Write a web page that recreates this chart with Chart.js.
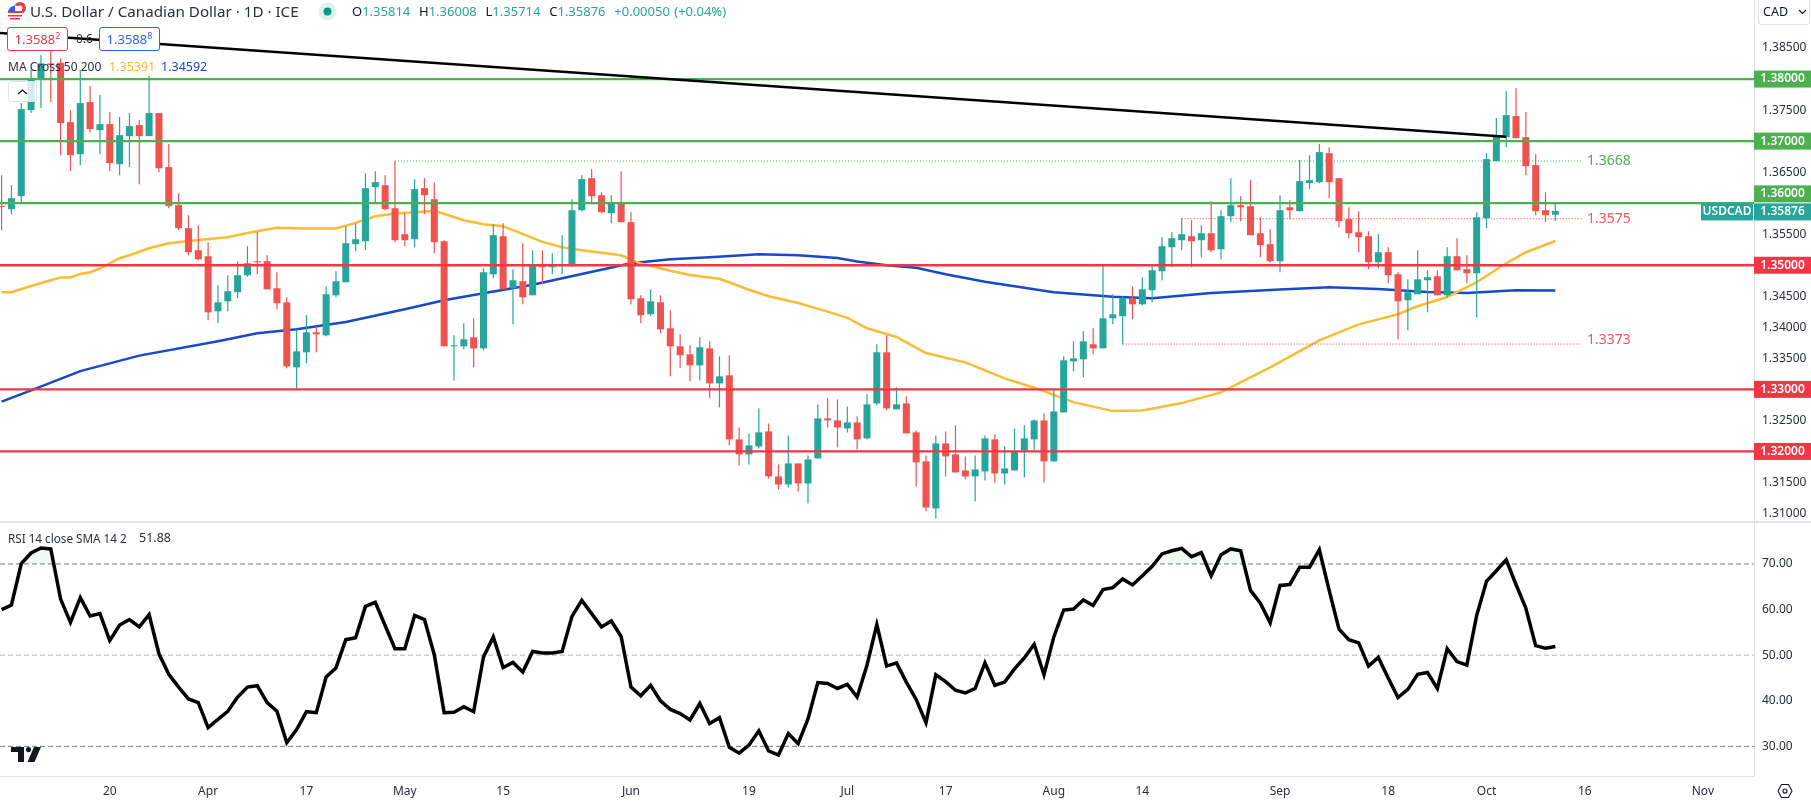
<!DOCTYPE html>
<html>
<head>
<meta charset="utf-8">
<title>USDCAD</title>
<script src="https://cdn.jsdelivr.net/npm/chart.js@4"></script>
<style>
    html, body { margin: 0; padding: 0; background: #fff; }
    body { width: 1811px; height: 802px; position: relative; overflow: hidden; font-family: "Noto Sans", sans-serif; color: #131722; }
    canvas { position: absolute; left: 0; }
    #priceChart { top: 0; }
    #rsiChart { top: 522px; }
    .txt { position: absolute; white-space: nowrap; line-height: 16px; }
    .up { color: #26a69a; }
    .sep { position: absolute; left: 0; top: 521px; width: 1811px; height: 1.5px; background: #e0e3eb; }
    .box { position: absolute; top: 27px; width: 59px; height: 22px; background: #fff; border-radius: 3px; font-size: 13px; line-height: 22px; text-align: center; }
    .box sup { font-size: 9px; line-height: 0; }
</style>
</head>
<body>
<canvas id="priceChart" width="1811" height="522"></canvas>
<canvas id="rsiChart" width="1811" height="280"></canvas>
<div class="sep"></div>

<!-- Header -->
<svg style="position:absolute;left:7px;top:2px" width="20" height="19" viewBox="0 0 20 19">
    <circle cx="13" cy="6" r="6" fill="#f23645"/>
    <circle cx="13" cy="6" r="2.5" fill="#fff"/>
    <circle cx="8" cy="11" r="7.5" fill="#fff"/>
    <path d="M1 9h14v2H1zM1 13h14v1.5H1zM3 16h10v1.5H3z" fill="#f23645"/>
    <path d="M1 11a7.5 7.5 0 0 1 7-7.5V10H1z" fill="#2962ff"/>
</svg>
<div class="txt" style="left:30px;top:3px;font-size:15.2px;color:#2a2e39">U.S. Dollar / Canadian Dollar · 1D · ICE</div>
<svg style="position:absolute;left:318px;top:2px" width="19" height="19"><circle cx="9.5" cy="9.5" r="9" fill="#dff1ee"/><circle cx="9.5" cy="9.5" r="4" fill="#089981"/></svg>
<div class="txt" style="left:352px;top:3px;font-size:13px;word-spacing:1px">O<span class="up">1.35814</span>&nbsp;&nbsp;H<span class="up">1.36008</span>&nbsp;&nbsp;L<span class="up">1.35714</span>&nbsp;&nbsp;C<span class="up">1.35876</span>&nbsp;&nbsp;<span class="up">+0.00050 (+0.04%)</span></div>

<!-- Order boxes and MA legend -->
<div class="box" style="left:7px;border:1px solid #f23645;color:#f23645">1.3588<sup>2</sup></div>
<div class="txt" style="left:76px;top:31px;font-size:12px;color:#2a2e39">0.6</div>
<div class="box" style="left:99px;border:1px solid #2962ff;color:#2962ff">1.3588<sup>8</sup></div>
<div class="txt" style="left:8px;top:59px;font-size:12px;color:#2a2e39">MA Cross 50 200</div>
<div class="txt" style="left:109px;top:59px;font-size:12.5px;color:#ffb92e">1.35391</div>
<div class="txt" style="left:161px;top:59px;font-size:12.5px;color:#1848cc">1.34592</div>
<svg style="position:absolute;left:8px;top:81px" width="29" height="21">
    <rect x="0.5" y="0.5" width="28" height="20" rx="3" fill="rgba(255,255,255,.8)" stroke="#e0e3eb"/>
    <path d="M10 13l4.5-4 4.5 4" fill="none" stroke="#131722" stroke-width="1.3"/>
</svg>

<!-- Currency button -->
<div class="txt" style="left:1758px;top:0;width:50px;height:24px;border:1px solid #e0e3eb;border-top:none;border-radius:0 0 4px 4px;line-height:23px;font-size:12.5px;text-indent:4px">CAD</div>
<svg style="position:absolute;left:1798px;top:9px" width="9" height="6"><path d="M1 1l3.5 3.5L8 1" fill="none" stroke="#131722" stroke-width="1.1"/></svg>

<!-- RSI legend, logo, settings -->
<div class="txt" style="left:8px;top:530px;font-size:11.7px;color:#2a2e39">RSI 14 close SMA 14 2</div>
<div class="txt" style="left:139px;top:530px;font-size:12.5px;color:#2a2e39">51.88</div>
<svg style="position:absolute;left:11px;top:747px" width="31" height="16" fill="#131722">
    <path d="M0 0h13v15H7V5H0z"/><circle cx="17.5" cy="2.6" r="2.6"/><path d="M23 0h7l-6.5 15h-7z"/>
</svg>
<svg style="position:absolute;left:1777px;top:783px" width="16" height="16" fill="none" stroke="#131722" stroke-width="1.1">
    <path d="M4.5 1.5h7L15 8l-3.5 6.5h-7L1 8z"/><circle cx="8" cy="8" r="2"/>
</svg>

<script>
// Candles, one entry per trading day (bar 0 = 8 Mar, last bar = 11 Oct)
const opens = [
    1.35957,1.35903,1.36113,1.37500,1.37995,1.38253,1.38263,1.37306,1.36790,1.37629,
    1.37177,1.37274,1.36629,1.37081,1.37258,1.37081,1.37452,1.36581,1.35968,1.35597,
    1.35242,1.35145,1.34258,1.34419,1.34565,1.34839,1.35065,1.35065,1.34629,1.34403,
    1.33355,1.33597,1.33919,1.33871,1.34516,1.34726,1.35339,1.35387,1.36258,1.36290,
    1.35919,1.35500,1.35419,1.36242,1.36065,1.35387,1.33694,1.33694,1.33839,1.33661,
    1.34855,1.35468,1.34629,1.34742,1.34516,1.34984,1.34968,1.34995,1.35000,1.35887,
    1.36403,1.36129,1.35839,1.36000,1.35694,1.34468,1.34210,1.34403,1.33984,1.33694,
    1.33565,1.33387,1.33661,1.33097,1.33226,1.32194,1.31952,1.32081,1.32323,1.31597,
    1.31468,1.31807,1.31484,1.31887,1.32532,1.32500,1.32371,1.32468,1.32210,1.32774,
    1.33597,1.32678,1.32774,1.32307,1.31839,1.31081,1.32129,1.31952,1.31694,1.31597,
    1.31678,1.32194,1.31645,1.31694,1.32016,1.32194,1.32500,1.31839,1.32629,1.33452,
    1.33484,1.33726,1.33661,1.34145,1.34178,1.34468,1.34371,1.34597,1.34903,1.35290,
    1.35403,1.35468,1.35403,1.35516,1.35258,1.35790,1.35968,1.35952,1.35516,1.35339,
    1.35065,1.35935,1.35871,1.36323,1.36339,1.36806,1.36403,1.35742,1.35532,1.35468,
    1.35048,1.35210,1.34855,1.34436,1.34532,1.34758,1.34823,1.34516,1.35145,1.34936,
    1.34871,1.35758,1.36677,1.37064,1.37403,1.37064,1.36613,1.35887,1.35814
];
const highs = [
    1.36452,1.36290,1.37613,1.38145,1.38387,1.38468,1.38333,1.37500,1.38145,1.37887,
    1.37742,1.37468,1.37387,1.37452,1.37339,1.38048,1.37452,1.36952,1.36161,1.35806,
    1.35645,1.35371,1.34678,1.34839,1.35065,1.35307,1.35532,1.35161,1.34887,1.34484,
    1.33952,1.34194,1.34016,1.34661,1.34903,1.35629,1.35677,1.36484,1.36516,1.36452,
    1.36683,1.35839,1.36387,1.36403,1.36339,1.35403,1.33871,1.34065,1.34145,1.34952,
    1.35661,1.35677,1.34936,1.35355,1.35242,1.35242,1.35194,1.35484,1.36065,1.36452,
    1.36548,1.36177,1.36129,1.36516,1.35855,1.34516,1.34613,1.34516,1.34274,1.33887,
    1.33710,1.33839,1.33774,1.33532,1.33549,1.32387,1.32291,1.32694,1.32452,1.31791,
    1.32258,1.31807,1.31936,1.32758,1.32855,1.32839,1.32726,1.32565,1.32920,1.33726,
    1.33871,1.33032,1.32887,1.32339,1.31936,1.32258,1.32323,1.32420,1.31920,1.31936,
    1.32258,1.32274,1.32081,1.32371,1.32420,1.32516,1.32613,1.32984,1.33532,1.33774,
    1.33936,1.33984,1.35016,1.34532,1.34500,1.34661,1.34807,1.35016,1.35452,1.35532,
    1.35758,1.35726,1.35645,1.36032,1.35887,1.36403,1.36113,1.36371,1.35774,1.35581,
    1.36129,1.36048,1.36694,1.36774,1.36952,1.36903,1.36403,1.35935,1.35871,1.35548,
    1.35500,1.35290,1.34887,1.34774,1.35242,1.34919,1.34919,1.35290,1.35436,1.35161,
    1.35855,1.36806,1.37371,1.37806,1.37855,1.37468,1.36790,1.36177,1.36008
];
const lows = [
    1.35565,1.35823,1.36016,1.37452,1.37532,1.37629,1.36774,1.36516,1.36613,1.37145,
    1.36790,1.36516,1.36452,1.36581,1.36306,1.37081,1.36500,1.35919,1.35565,1.35161,
    1.35081,1.34113,1.34065,1.34258,1.34468,1.34812,1.34855,1.34613,1.34290,1.33339,
    1.33016,1.33419,1.33597,1.33855,1.34484,1.34726,1.35226,1.35242,1.36016,1.35887,
    1.35371,1.35307,1.35290,1.35823,1.35194,1.33694,1.33145,1.33645,1.33355,1.33629,
    1.34790,1.34613,1.34048,1.34371,1.34516,1.34694,1.34855,1.34855,1.34968,1.35871,
    1.36016,1.35839,1.35677,1.35694,1.34371,1.34065,1.34178,1.33903,1.33210,1.33339,
    1.33129,1.33145,1.32855,1.32710,1.32097,1.31774,1.31791,1.32049,1.31565,1.31387,
    1.31420,1.31355,1.31162,1.31887,1.32387,1.32065,1.32307,1.32032,1.32194,1.32742,
    1.32662,1.32678,1.32291,1.31436,1.31033,1.30920,1.31597,1.31662,1.31549,1.31194,
    1.31533,1.31500,1.31468,1.31694,1.31581,1.32016,1.31500,1.31839,1.32629,1.33290,
    1.33194,1.33565,1.33661,1.34048,1.33726,1.34129,1.34355,1.34403,1.34758,1.34968,
    1.35242,1.34968,1.35129,1.35210,1.35097,1.35694,1.35710,1.35484,1.35129,1.35048,
    1.34887,1.35742,1.35871,1.36226,1.36323,1.36081,1.35613,1.35436,1.35210,1.34936,
    1.34952,1.34710,1.33807,1.33952,1.34532,1.34242,1.34516,1.34484,1.34919,1.34710,
    1.34161,1.35597,1.36677,1.36903,1.37048,1.36452,1.35806,1.35694,1.35714
];
const closes = [
    1.35941,1.36081,1.37516,1.38000,1.38253,1.38226,1.37290,1.36774,1.37613,1.37194,
    1.37274,1.36645,1.37097,1.37242,1.37081,1.37452,1.36564,1.35952,1.35597,1.35210,
    1.35097,1.34242,1.34403,1.34581,1.34839,1.35032,1.35048,1.34613,1.34387,1.33371,
    1.33613,1.33919,1.33887,1.34532,1.34742,1.35355,1.35419,1.36242,1.36339,1.35903,
    1.35403,1.35403,1.36226,1.36129,1.35371,1.33694,1.33710,1.33807,1.33661,1.34887,
    1.35484,1.34613,1.34758,1.34484,1.35016,1.34968,1.34984,1.35011,1.35887,1.36387,
    1.36113,1.35855,1.36000,1.35694,1.34452,1.34194,1.34419,1.33968,1.33694,1.33549,
    1.33387,1.33678,1.33097,1.33210,1.32194,1.31952,1.32097,1.32307,1.31597,1.31468,
    1.31807,1.31484,1.31871,1.32532,1.32500,1.32387,1.32468,1.32194,1.32758,1.33597,
    1.32694,1.32758,1.32291,1.31823,1.31097,1.32129,1.31920,1.31662,1.31597,1.31710,
    1.32210,1.31645,1.31726,1.32000,1.32210,1.32500,1.31839,1.32645,1.33468,1.33500,
    1.33774,1.33661,1.34145,1.34210,1.34468,1.34371,1.34613,1.34919,1.35307,1.35436,
    1.35500,1.35387,1.35516,1.35242,1.35790,1.35968,1.35935,1.35484,1.35323,1.35065,
    1.35887,1.35887,1.36355,1.36371,1.36823,1.36339,1.35710,1.35516,1.35452,1.35048,
    1.35210,1.34839,1.34419,1.34565,1.34774,1.34807,1.34516,1.35145,1.34919,1.34871,
    1.35774,1.36710,1.37097,1.37419,1.37048,1.36597,1.35871,1.35806,1.35876
];

// Moving averages, read at the bars where the curve bends
const ma50Bars = [0,1,3,5,6,7,8,9,10,12,13,15,17,19,23,25,28,31,34,36,38,40,42,44,47,49,51,52,55,57,59,63,65,68,70,73,76,78,81,84,86,88,91,94,98,100,102,105,109,113,116,120,124,129,134,138,142,144,147,150,153,155,158];
const ma50Values = [1.34565,1.34565,1.34666,1.34758,1.34802,1.34802,1.34860,1.34887,1.34947,1.35113,1.35161,1.35274,1.35355,1.35392,1.35452,1.35521,1.35605,1.35592,1.35592,1.35682,1.35790,1.35834,1.35855,1.35876,1.35726,1.35661,1.35629,1.35565,1.35376,1.35290,1.35242,1.35161,1.35027,1.34911,1.34844,1.34782,1.34605,1.34500,1.34392,1.34253,1.34153,1.33984,1.33844,1.33585,1.33435,1.33306,1.33177,1.33027,1.32795,1.32650,1.32661,1.32779,1.32952,1.33355,1.33790,1.34048,1.34210,1.34339,1.34489,1.34726,1.35032,1.35210,1.35391];
const ma200Bars = [0,3,8,14,22,26,30,35,41,45,49,54,59,64,68,72,77,81,85,87,90,93,96,100,107,113,117,123,130,135,140,145,149,154,158];
const ma200Values = [1.32802,1.32984,1.33295,1.33544,1.33774,1.33903,1.33968,1.34085,1.34290,1.34435,1.34548,1.34685,1.34860,1.35032,1.35097,1.35129,1.35177,1.35161,1.35118,1.35060,1.35000,1.34960,1.34855,1.34734,1.34565,1.34492,1.34468,1.34552,1.34608,1.34645,1.34618,1.34569,1.34553,1.34597,1.34592];

// Drawn levels
const greenLevels = [1.38, 1.37, 1.36];
const redLevels = [1.35, 1.33, 1.32];
const trendBars = [-0.16, 153];
const trendValues = [1.38742, 1.37069];
const dottedLabels = ['1.3668', '1.3575', '1.3373'];
const dottedValues = [1.3668, 1.3575, 1.3373];
const dottedStart = [40, 120, 114];
const dottedEnd = 160.7;
const lastPrice = 1.35876;

// RSI, one entry per bar
const rsiValues = [
    60.0,61.0,70.1,72.4,73.5,73.3,62.3,57.2,62.6,58.6,
    59.1,53.2,56.6,57.8,56.2,58.9,50.3,45.8,43.0,40.4,
    39.6,34.1,35.9,37.7,40.8,43.0,43.3,39.6,37.7,30.8,
    33.7,37.6,37.4,45.2,47.2,53.4,53.8,60.7,61.6,56.5,
    51.4,51.4,58.7,57.8,50.1,37.4,37.5,38.7,37.6,49.6,
    54.0,47.3,48.4,46.3,50.8,50.5,50.5,50.8,58.5,62.0,
    59.1,56.2,57.5,54.1,43.0,41.1,43.4,40.0,38.1,37.2,
    35.8,39.4,35.0,36.3,29.8,28.5,30.3,33.4,29.0,28.1,
    32.8,30.6,36.0,44.0,43.8,42.7,43.6,40.8,47.8,56.7,
    47.6,48.3,44.1,40.3,35.2,45.7,44.2,42.3,41.7,42.7,
    48.3,43.4,44.1,47.0,49.4,52.4,45.7,54.0,59.9,60.1,
    62.1,60.9,64.4,64.8,66.7,65.4,67.4,69.5,72.2,72.9,
    73.4,71.6,72.5,67.4,72.0,73.3,72.9,64.2,61.4,57.1,
    65.3,65.5,69.3,69.3,73.1,64.2,55.7,53.4,52.7,47.6,
    49.5,45.0,40.7,42.5,45.8,46.2,42.7,51.4,48.6,47.8,
    58.7,66.2,68.5,70.9,65.5,60.3,52.1,51.5,51.88
];
const rsiLevels = [70, 50, 30];

// Axis ticks
const priceTicks = [1.385, 1.38, 1.375, 1.37, 1.365, 1.36, 1.355, 1.35, 1.345, 1.34, 1.335, 1.33, 1.325, 1.32, 1.315, 1.31];
const priceTags = [1.38, 1.37, 1.36, 1.35, 1.33, 1.32];
const rsiTicks = [70, 60, 50, 40, 30];
const tickBars = [11, 21, 31, 41, 51, 64, 76, 86, 96, 107, 116, 130, 141, 151, 161, 173];
const tickLabels = ['20', 'Apr', '17', 'May', '15', 'Jun', '19', 'Jul', '17', 'Aug', '14', 'Sep', '18', 'Oct', '16', 'Nov'];

// Colors
const UP = '#26a69a';
const DOWN = '#ef5350';
const GREEN = '#4caf50';
const RED = '#f23645';
const AXIS = '#e0e3eb';
const FONT = '"Noto Sans", sans-serif';

const X_MIN = -0.163;
const X_MAX = 178.2;
const AXIS_WIDTH = 57;

const barColor = ctx => closes[ctx.dataIndex] >= opens[ctx.dataIndex] ? UP : DOWN;
const levelLine = (value, color, width) => ({
    type: 'line',
    data: [{ x: X_MIN, y: value }, { x: X_MAX, y: value }],
    borderColor: color,
    borderWidth: width,
    pointRadius: 0,
    order: 1
});
const curve = (bars, values, color, order) => ({
    type: 'line',
    data: bars.map((b, i) => ({ x: b, y: values[i] })),
    borderColor: color,
    borderWidth: 2.5,
    pointRadius: 0,
    order: order
});
// Chart.js keeps room for half a tick label above and below, the panes run to the edge
const fitRightAxis = s => {
    s.width = AXIS_WIDTH;
    s.paddingTop = 0;
    s.paddingBottom = 0;
};

// --- Price pane ---

// Right axis tags and the labels of the dotted lines
const priceLabels = {
    id: 'priceLabels',
    afterDraw(chart) {
        const { ctx, scales: { x, y } } = chart;
        const left = y.left;
        const tag = (text, tagX, w, cy, color) => {
            ctx.fillStyle = color;
            ctx.fillRect(tagX, cy - 8.5, w, 17);
            ctx.fillStyle = '#fff';
            ctx.font = '600 12px ' + FONT;
            ctx.textAlign = 'center';
            ctx.textBaseline = 'middle';
            ctx.fillText(text, tagX + w / 2, cy);
        };
        const lastY = y.getPixelForValue(lastPrice) + 1;
        priceTags.forEach(v => {
            const py = y.getPixelForValue(v);
            const cy = Math.abs(py - lastY) < 17 ? lastY - 18 : py;
            tag(v.toFixed(5), left, AXIS_WIDTH, cy, greenLevels.includes(v) ? GREEN : RED);
        });
        tag('USDCAD', left - 53, 52, lastY, UP);
        tag(lastPrice.toFixed(5), left, AXIS_WIDTH, lastY, UP);

        ctx.font = '14px ' + FONT;
        ctx.textAlign = 'left';
        ctx.textBaseline = 'middle';
        dottedLabels.forEach((text, i) => {
            ctx.fillStyle = i === 0 ? GREEN : '#f7525f';
            ctx.fillText(text, x.getPixelForValue(dottedEnd) + 5, y.getPixelForValue(dottedValues[i]) - (i === 2 ? 4 : 0));
        });
    }
};

const bars = opens.map((o, i) => i);

new Chart(document.getElementById('priceChart'), {
    type: 'bar',
    data: {
        datasets: [
            ...greenLevels.map(v => levelLine(v, GREEN, 2.3)),
            ...redLevels.map(v => levelLine(v, RED, 2.3)),
            {
                type: 'line',
                data: trendBars.map((b, i) => ({ x: b, y: trendValues[i] })),
                borderColor: '#000',
                borderWidth: 2.5,
                pointRadius: 0,
                order: 0
            },
            ...dottedValues.map((v, i) => ({
                type: 'line',
                data: [{ x: dottedStart[i], y: v }, { x: dottedEnd, y: v }],
                borderColor: i === 0 ? GREEN : RED,
                borderWidth: 1,
                borderDash: [1, 2],
                pointRadius: 0,
                order: 4
            })),
            {
                data: bars.map(i => ({ x: i, y: [opens[i], closes[i]] })),
                backgroundColor: barColor,
                barThickness: 7,
                grouped: false,
                inflateAmount: 0,
                order: 2
            },
            {
                data: bars.map(i => ({ x: i, y: [lows[i], highs[i]] })),
                backgroundColor: barColor,
                barThickness: 1.2,
                grouped: false,
                inflateAmount: 0,
                order: 3
            },
            curve(ma50Bars, ma50Values, '#fbbc34', 5),
            curve(ma200Bars, ma200Values, '#1848cc', 5)
        ]
    },
    options: {
        responsive: false,
        animation: false,
        events: [],
        devicePixelRatio: 1,
        layout: { padding: 0 },
        plugins: { legend: { display: false }, tooltip: { enabled: false } },
        scales: {
            x: { type: 'linear', min: X_MIN, max: X_MAX, offset: false, display: false },
            y: {
                position: 'right',
                min: 1.30863,
                max: 1.39274,
                afterFit: fitRightAxis,
                afterBuildTicks: s => { s.ticks = priceTicks.map(v => ({ value: v })); },
                grid: { display: false, drawTicks: false },
                border: { display: true, color: AXIS },
                ticks: {
                    padding: 8,
                    color: '#2a2e39',
                    font: { family: FONT, size: 12 },
                    autoSkip: false,
                    callback: v => priceTags.includes(v) ? '' : v.toFixed(5)
                }
            }
        }
    },
    plugins: [priceLabels]
});

// --- RSI pane ---

new Chart(document.getElementById('rsiChart'), {
    type: 'line',
    data: {
        datasets: [
            {
                data: rsiValues.map((v, i) => ({ x: i, y: v })),
                borderColor: '#000',
                borderWidth: 3.5,
                pointRadius: 0,
                fill: { target: { value: 70 }, above: 'rgba(76,175,80,0.07)', below: 'transparent' },
                order: 0
            },
            ...rsiLevels.map(v => ({
                data: [{ x: X_MIN, y: v }, { x: X_MAX, y: v }],
                borderColor: v === 50 ? '#b2b5be' : '#787b86',
                borderWidth: 1,
                borderDash: [5, 3],
                pointRadius: 0,
                order: 1
            }))
        ]
    },
    options: {
        responsive: false,
        animation: false,
        events: [],
        devicePixelRatio: 1,
        layout: { padding: 0 },
        plugins: { legend: { display: false }, tooltip: { enabled: false } },
        scales: {
            x: {
                type: 'linear',
                min: X_MIN,
                max: X_MAX,
                afterFit: s => { s.height = 25.3; },
                afterBuildTicks: s => { s.ticks = tickBars.map(v => ({ value: v })); },
                grid: { display: false, drawTicks: false },
                border: { display: true, color: AXIS },
                ticks: {
                    padding: 8,
                    color: '#2a2e39',
                    font: { family: FONT, size: 12 },
                    autoSkip: false,
                    maxRotation: 0,
                    callback: v => tickLabels[tickBars.indexOf(v)]
                }
            },
            y: {
                position: 'right',
                min: 23.35,
                max: 79.2,
                afterFit: fitRightAxis,
                afterBuildTicks: s => { s.ticks = rsiTicks.map(v => ({ value: v })); },
                grid: { display: false, drawTicks: false },
                border: { display: true, color: AXIS },
                ticks: {
                    padding: 8,
                    color: '#2a2e39',
                    font: { family: FONT, size: 12 },
                    autoSkip: false,
                    callback: v => v.toFixed(2)
                }
            }
        }
    }
});
</script>
</body>
</html>
